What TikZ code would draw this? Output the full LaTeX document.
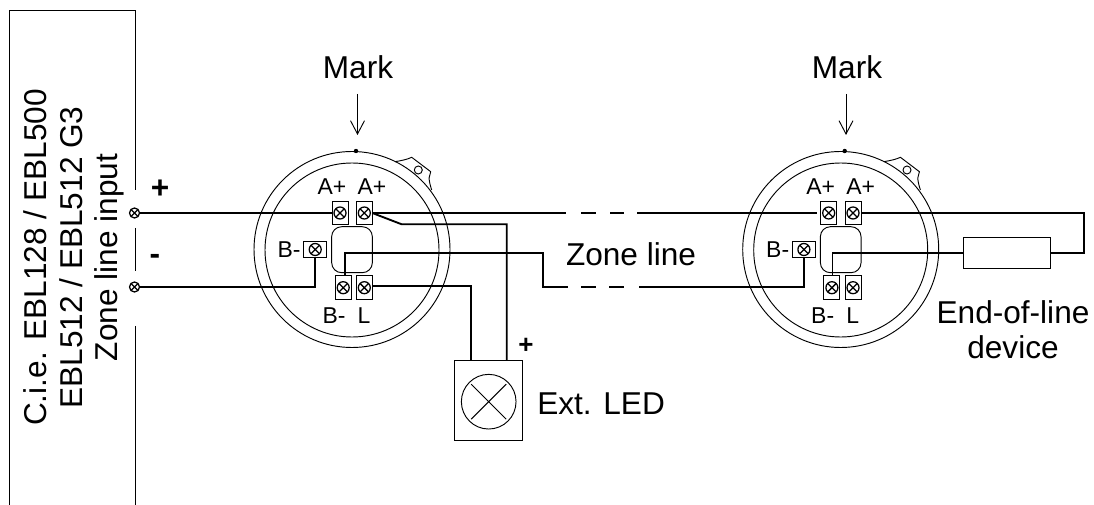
\documentclass[tikz,border=0pt]{standalone}
\usepackage{fontspec}
\setmainfont{Liberation Sans}
\usetikzlibrary{arrows.meta}
\newcommand{\bigtxt}{\fontsize{23.7}{26.6}\selectfont}
\newcommand{\smalltxt}{\fontsize{17.2}{20}\selectfont}
\tikzset{
  x=0.75pt,y=-0.75pt,
  thin line/.style={draw=black,line width=0.7pt},
  wire/.style={draw=black,line width=1.4pt,line join=miter},
  screw/.style={circle,draw=black,line width=0.95pt,inner sep=0pt,outer sep=0pt,minimum size=#1,
    path picture={\draw[line width=0.95pt] (path picture bounding box.north west)--(path picture bounding box.south east)
      (path picture bounding box.north east)--(path picture bounding box.south west);}},
  screw/.default=9pt,
  vterm/.style={rectangle,thin line,inner sep=0pt,outer sep=0pt,minimum width=12pt,minimum height=17.7pt},
  hterm/.style={rectangle,thin line,inner sep=0pt,outer sep=0pt,minimum width=17.2pt,minimum height=11.7pt},
  biglabel/.style={font=\bigtxt,inner sep=0pt},
  smalllabel/.style={font=\smalltxt,inner sep=0pt},
  detector/.pic={
    \draw[thin line] (0,0) circle[radius=98];
    \draw[thin line] (0,0.5) circle[radius=87];
    \fill (4,-98.5) circle[radius=2.2];
    \draw[thin line,line join=round] (43,-87.8) .. controls (50,-89) and (55,-90) .. (59.7,-92.2) -- (78.7,-77.8) -- (77,-71.2) .. controls (77.5,-67) and (78.5,-63) .. (79.7,-59.5);
    \draw[thin line] (66.3,-79.5) circle[radius=4];
    \node[thin line,rectangle,rounded corners=7.5pt,inner sep=0pt,minimum width=30.5pt,minimum height=34.5pt] (-hub) at (0,0.2) {};
    \node[vterm] (a1) at (-12,-36.5) {};
    \node[screw] (a1s) at (-12,-36.5) {};
    \node[vterm] (a2) at (12.3,-36.5) {};
    \node[screw] (a2s) at (12.3,-36.5) {};
    \node[hterm] (b) at (-36.8,0) {};
    \node[screw] (bs) at (-36.8,0) {};
    \node[vterm] (c) at (-8.8,38.2) {};
    \node[screw] (cs) at (-8.8,38.2) {};
    \node[vterm] (l) at (12.3,38.2) {};
    \node[screw] (ls) at (12.3,38.2) {};
    \node[smalllabel] (la1) at (-20,-62.5) {A+};
    \node[smalllabel] (la2) at (20,-62.5) {A+};
    \node[smalllabel] (lb) at (-63,0.5) {B-};
    \node[smalllabel] (lc) at (-18,66) {B-};
    \node[smalllabel] (ll) at (12,66) {L};
  }
}
\begin{document}
\begin{tikzpicture}
\useasboundingbox (0,0) rectangle (1094,505);
% control panel box
\draw[thin line] (9,505) -- (9,10.5) -- (135.5,10.5) -- (135.5,190);
\draw[thin line] (135.5,228) -- (135.5,271);
\draw[thin line] (135.5,326) -- (135.5,505);
\node[biglabel,rotate=90,align=center] (cie) at (74,257.5) {C.i.e. EBL128 / EBL500\\EBL512 / EBL512 G3\\Zone line input};
\node[screw=7.5pt] (tp) at (134.5,213) {};
\node[screw=7.5pt] (tm) at (134.5,287) {};
\node[biglabel,font=\bigtxt\bfseries] (plus) at (160,189) {+};
\node[biglabel,font=\bigtxt\bfseries] (minus) at (155,259) {-};
% detectors
\pic (d1) at (352,249.5) {detector};
\pic (d2) at (840.7,249.5) {detector};
% Mark labels and arrows
\node[biglabel] (m1) at (358,67) {Mark};
\node[biglabel] (m2) at (847,67) {Mark};
\coordinate (m1a) at (357.5,94);
\coordinate (m1b) at (357.5,135);
\coordinate (m2a) at (846,94);
\coordinate (m2b) at (846,135);
\draw[thin line,-{Straight Barb[length=10pt,width=10.5pt]}] (m1a) -- (m1b);
\draw[thin line,-{Straight Barb[length=10pt,width=10.5pt]}] (m2a) -- (m2b);
% LED
\node[rectangle,thin line,inner sep=0pt,minimum width=51pt,minimum height=60.2pt] (led) at (488.3,400.8) {};
\node[circle,thin line,inner sep=0pt,minimum size=41pt,
  path picture={\draw[thin line] ([shift={(-17.5,-17.5)}]path picture bounding box.center)--([shift={(17.5,17.5)}]path picture bounding box.center)
    ([shift={(17.5,-17.5)}]path picture bounding box.center)--([shift={(-17.5,17.5)}]path picture bounding box.center);}] (ledc) at (488.7,401.7) {};
\node[biglabel,anchor=west] (ledt) at (537,404) {Ext. LED};
\node[biglabel,font=\fontsize{19.5}{22}\selectfont\bfseries] (ledp) at (526,346) {+};
\coordinate (ledin1) at (506.7,360.7);
\coordinate (ledin2) at (471.3,360.7);
% resistor
\node[rectangle,thin line,inner sep=0pt,minimum width=65pt,minimum height=22.7pt] (res) at (1006.7,253) {};
\node[biglabel,align=center] (eol) at (1013,329.5) {End-of-line\\device};
\node[biglabel] (zl) at (631,254.5) {Zone line};
% wire routing points
\coordinate (j1) at (401.7,224.3);
\coordinate (zb1) at (543,253);
\coordinate (zb2) at (543,287);
\coordinate (ta) at (566,213);
\coordinate (tb) at (581,213);
\coordinate (tc) at (596,213);
\coordinate (td) at (610,213);
\coordinate (te) at (624,213);
\coordinate (tf) at (637,213);
\coordinate (tg) at (817,213);
\coordinate (ba) at (568,287);
\coordinate (bb) at (581,287);
\coordinate (bc) at (596,287);
\coordinate (bd) at (609,287);
\coordinate (be) at (624,287);
\coordinate (bf) at (639,287);
\coordinate (r1) at (1084.3,213);
% wires
\draw[wire] (tp.east) -- (d1a1.west);
\draw[wire] (d1a2.east) -- (ta);
\draw[wire] (tb) -- (tc);
\draw[wire] (td) -- (te);
\draw[wire] (tf) -- (tg);
\draw[wire] (tm.east) -| (d1b.south);
\draw[wire] (d1a2.east) -- (j1) -| (ledin1);
\draw[wire] ([yshift=1.5pt]d1l.east) -| (ledin2);
\draw[wire] ([xshift=1.2pt]d1c.north) |- (zb1) -- (zb2) -- (ba);
\draw[wire] (bb) -- (bc);
\draw[wire] (bd) -- (be);
\draw[wire] (bf) -| (d2b.south);
\draw[wire] ([xshift=0.4pt]d2c.north) |- (res.west);
\draw[wire] (res.east) -| (r1) -- (d2a2.east);
\end{tikzpicture}
\end{document}
